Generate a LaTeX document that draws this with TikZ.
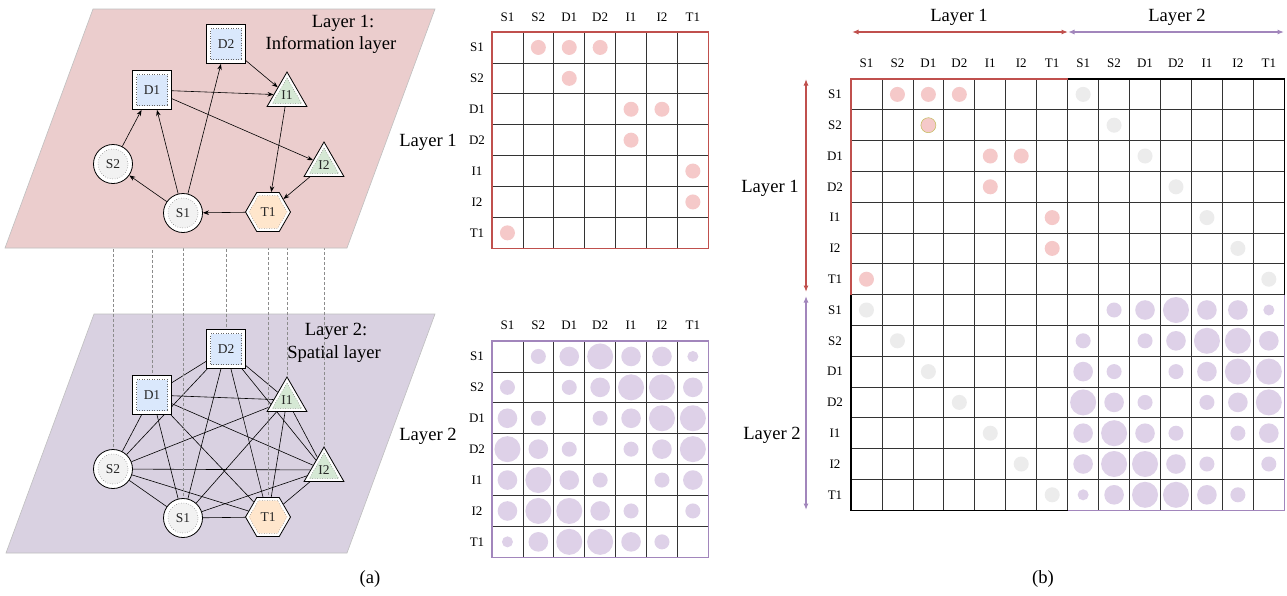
\documentclass[tikz,border=0pt]{standalone}
\usepackage{fontspec}
\setmainfont{Liberation Serif}
\usetikzlibrary{shapes.geometric,arrows.meta}
\pgfdeclarelayer{bg}
\pgfdeclarelayer{dashl}
\pgfdeclarelayer{pone}
\pgfsetlayers{bg,dashl,pone,main}
\definecolor{planeA}{HTML}{EBCDCD}
\definecolor{planeB}{HTML}{D9D1E1}
\definecolor{redB}{HTML}{C0504D}
\definecolor{purB}{HTML}{A286BC}
\definecolor{pinkD}{HTML}{F5C9C9}
\definecolor{purD}{HTML}{DED1E8}
\definecolor{grayD}{HTML}{ECECEC}
\definecolor{fillS}{HTML}{F2F2F2}
\definecolor{fillD}{HTML}{DAE8FC}
\definecolor{fillI}{HTML}{D5E8D4}
\definecolor{fillT}{HTML}{FFE6CC}
\tikzset{
 lbl/.style={font=\fontsize{13.5}{14}\selectfont, text=black!85, inner sep=0pt},
 hdr/.style={font=\fontsize{13}{14}\selectfont, inner sep=0pt},
 big/.style={font=\fontsize{18.6}{20}\selectfont, inner sep=0pt},
 outerS/.style={circle,draw=black,fill=white,line width=0.8pt,minimum size=39pt,inner sep=0pt},
 innerS/.style={circle,draw=black!60,dotted,line width=0.5pt,fill=fillS,minimum size=30pt,lbl},
 outerD/.style={rectangle,draw=black,fill=white,line width=0.8pt,minimum size=39pt,inner sep=0pt},
 innerD/.style={rectangle,draw=black!60,dotted,line width=0.5pt,fill=fillD,minimum size=31pt,lbl},
 outerI/.style={regular polygon,regular polygon sides=3,draw=black,fill=white,line width=0.8pt,minimum size=46pt,inner sep=0pt},
 innerI/.style={regular polygon,regular polygon sides=3,draw=black!60,dotted,line width=0.5pt,fill=fillI,minimum size=34pt,lbl},
 outerT/.style={regular polygon,regular polygon sides=6,draw=black,fill=white,line width=0.8pt,minimum size=45pt,inner sep=0pt},
 innerT/.style={regular polygon,regular polygon sides=6,draw=black!60,dotted,line width=0.5pt,fill=fillT,minimum size=38pt,lbl},
 arr/.style={-{Stealth[length=6pt,width=4.5pt]},line width=0.6pt},
 edgel/.style={line width=0.6pt},
 vdash/.style={draw=black!45,dash pattern=on 3pt off 2pt,line width=0.5pt},
 gridl/.style={draw=black!80,line width=0.8pt},
 dbl/.style={{Latex[length=6.5pt,width=5pt]}-{Latex[length=6.5pt,width=5pt]},line width=1.2pt},
}
\newcommand\netnode[5]{\node[outer#2] (#1) at (#3,#4) {};\node[inner#2] (#1i) at (#3,#4) {#5};}
\newcommand\LtwoRows{1/{0,7.5,9.8,13,9.8,9.8,5.5},2/{7.5,0,7.5,9.8,13,13,9.8},3/{9.8,7.5,0,7.5,9.8,13,13},4/{13,9.8,7.5,0,7.5,9.8,13},5/{9.8,13,9.8,7.5,0,7.5,9.8},6/{9.8,13,13,9.8,7.5,0,7.5},7/{5.5,9.8,13,13,9.8,7.5,0}}
\newcommand\smallmat[4]{%
 \foreach \i in {1,...,6}{
   \draw[gridl] ({492+\i*30.9},#2) -- ({492+\i*30.9},{#2+216.3});
   \draw[gridl] (492,{#2+\i*30.9}) -- (708.3,{#2+\i*30.9});
 }
 \draw[#3,line width=1.3pt] (492,#2) rectangle (708.3,{#2+216.3});
 \foreach \l [count=\c] in {S1,S2,D1,D2,I1,I2,T1}{
   \node[hdr] (#1h\c) at ({492+(\c-0.5)*30.9},#4) {\l};
   \node[hdr] (#1r\c) at (477,{#2+(\c-0.5)*30.9}) {\l};
 }
}
\begin{document}
\begin{tikzpicture}[x=1pt,y=-1pt]
\useasboundingbox (0,0) rectangle (1287,595);
\begin{pgfonlayer}{bg}
\fill[white] (0,0) rectangle (1287,595);
\filldraw[fill=planeB,draw=black!25,line width=0.6pt] (94,314) -- (435,314) -- (347,553) -- (6,553) -- cycle;
\end{pgfonlayer}
% ---------- layer 1 network
\netnode{aD2}{D}{226}{44}{D2}
\netnode{aD1}{D}{152}{90}{D1}
\netnode{aI1}{I}{287}{95}{I1}
\netnode{aI2}{I}{324}{165}{I2}
\netnode{aS2}{S}{113}{164}{S2}
\netnode{aS1}{S}{183}{213}{S1}
\netnode{aT1}{T}{268}{212}{T1}
\draw[arr] (aS1) -- (aS2);
\draw[arr] (aS1) -- (aD1);
\draw[arr] (aS1) -- (aD2);
\draw[arr] (aS2) -- (aD1);
\draw[arr] (aD1) -- (aI1);
\draw[arr] (aD1) -- (aI2);
\draw[arr] (aD2) -- (aI1);
\draw[arr] (aI1) -- (aT1);
\draw[arr] (aI2) -- (aT1);
\draw[arr] (aT1) -- (aS1);
\node[big] (t1a) at (343,23) {Layer 1:};
\node[big] (t1b) at (331,45) {Information layer};
\node[big] (t1c) at (428,142) {Layer 1};
% ---------- layer 2 network
\netnode{bD2}{D}{226}{349}{D2}
\netnode{bD1}{D}{152}{395}{D1}
\netnode{bI1}{I}{287}{400}{I1}
\netnode{bI2}{I}{324}{470}{I2}
\netnode{bS2}{S}{113}{469}{S2}
\netnode{bS1}{S}{183}{518}{S1}
\netnode{bT1}{T}{268}{517}{T1}
\begin{pgfonlayer}{dashl}
\foreach \p/\q in {S1/S2,S1/D1,S1/D2,S1/I1,S1/I2,S1/T1,S2/D1,S2/D2,S2/I1,S2/I2,S2/T1,D1/D2,D1/I1,D1/I2,D1/T1,D2/I1,D2/I2,D2/T1,I1/I2,I1/T1,I2/T1}
  \draw[edgel] (b\p) -- (b\q);
\foreach \n in {S1,S2,D1,D2,I1,I2,T1}
  \draw[vdash] (a\n.south) -- (b\n.north);
\end{pgfonlayer}
\begin{pgfonlayer}{pone}
\filldraw[fill=planeA,draw=black!25,line width=0.6pt] (93,9) -- (435,9) -- (347,248) -- (5,248) -- cycle;
\end{pgfonlayer}
\node[big] (t2a) at (336,331) {Layer 2:};
\node[big] (t2b) at (334,354) {Spatial layer};
\node[big] (t2c) at (428,436) {Layer 2};
% ---------- small matrices
\foreach \r/\c in {1/2,1/3,1/4,2/3,3/5,3/6,4/5,5/7,6/7,7/1}
  \fill[pinkD] ({492+(\c-0.5)*30.9},{32+(\r-0.5)*30.9}) circle (7.5pt);
\smallmat{mA}{32}{redB}{17}
\foreach \r/\vals in \LtwoRows {
  \foreach \rad [count=\c] in \vals {
    \fill[purD] ({492+(\c-0.5)*30.9},{341+(\r-0.5)*30.9}) circle (\rad pt);
  }
}
\smallmat{mB}{341}{purB}{325}
\node[big] (capa) at (370,579) {(a)};
% ---------- big matrix
\foreach \r/\c in {1/2,1/3,1/4,3/5,3/6,4/5,5/7,6/7,7/1}
  \fill[pinkD] ({851+(\c-0.5)*30.95},{79+(\r-0.5)*30.8}) circle (7.5pt);
\filldraw[fill=pinkD,draw=olive!55,line width=0.5pt] ({851+2.5*30.95},{79+1.5*30.8}) circle (7.5pt);
\foreach \k in {1,...,7}{
  \fill[grayD] ({851+(\k+6.5)*30.95},{79+(\k-0.5)*30.8}) circle (7.5pt);
  \fill[grayD] ({851+(\k-0.5)*30.95},{79+(\k+6.5)*30.8}) circle (7.5pt);
}
\foreach \r/\vals in \LtwoRows {
  \foreach \rad [count=\c] in \vals {
    \fill[purD] ({851+(\c+6.5)*30.95},{79+(\r+6.5)*30.8}) circle (\rad pt);
  }
}
\foreach \i in {1,...,13}{
  \draw[gridl] ({851+\i*30.95},79) -- ({851+\i*30.95},510.2);
  \draw[gridl] (851,{79+\i*30.8}) -- (1284.3,{79+\i*30.8});
}
\draw[redB,line width=1.3pt] (851,294.6) -- (851,79) -- (1067.65,79);
\draw[black,line width=1.3pt] (1067.65,79) -- (1284.3,79) -- (1284.3,294.6);
\draw[purB,line width=1.3pt] (1284.3,294.6) -- (1284.3,510.2) -- (1067.65,510.2);
\draw[black,line width=1.3pt] (1067.65,510.2) -- (851,510.2) -- (851,294.6);
\foreach \l [count=\c] in {S1,S2,D1,D2,I1,I2,T1,S1,S2,D1,D2,I1,I2,T1}{
  \node[hdr] (bh\c) at ({851+(\c-0.5)*30.95},63) {\l};
  \node[hdr] (br\c) at (835,{79+(\c-0.5)*30.8}) {\l};
}
\coordinate (tL) at (852,32);
\coordinate (tM) at (1068,32);
\coordinate (tR) at (1284,32);
\draw[dbl,redB] (tL) -- (tM);
\draw[dbl,purB] (tM) -- (tR);
\node[big] (bt1) at (959,17) {Layer 1};
\node[big] (bt2) at (1177,17) {Layer 2};
\coordinate (lT) at (806,79);
\coordinate (lM1) at (806,292);
\coordinate (lM2) at (806,296);
\coordinate (lB) at (806,510);
\draw[dbl,redB] (lT) -- (lM1);
\draw[dbl,purB] (lM2) -- (lB);
\node[big] (bl1) at (770,188) {Layer 1};
\node[big] (bl2) at (772,435) {Layer 2};
\node[big] (capb) at (1043,579) {(b)};
\end{tikzpicture}
\end{document}
